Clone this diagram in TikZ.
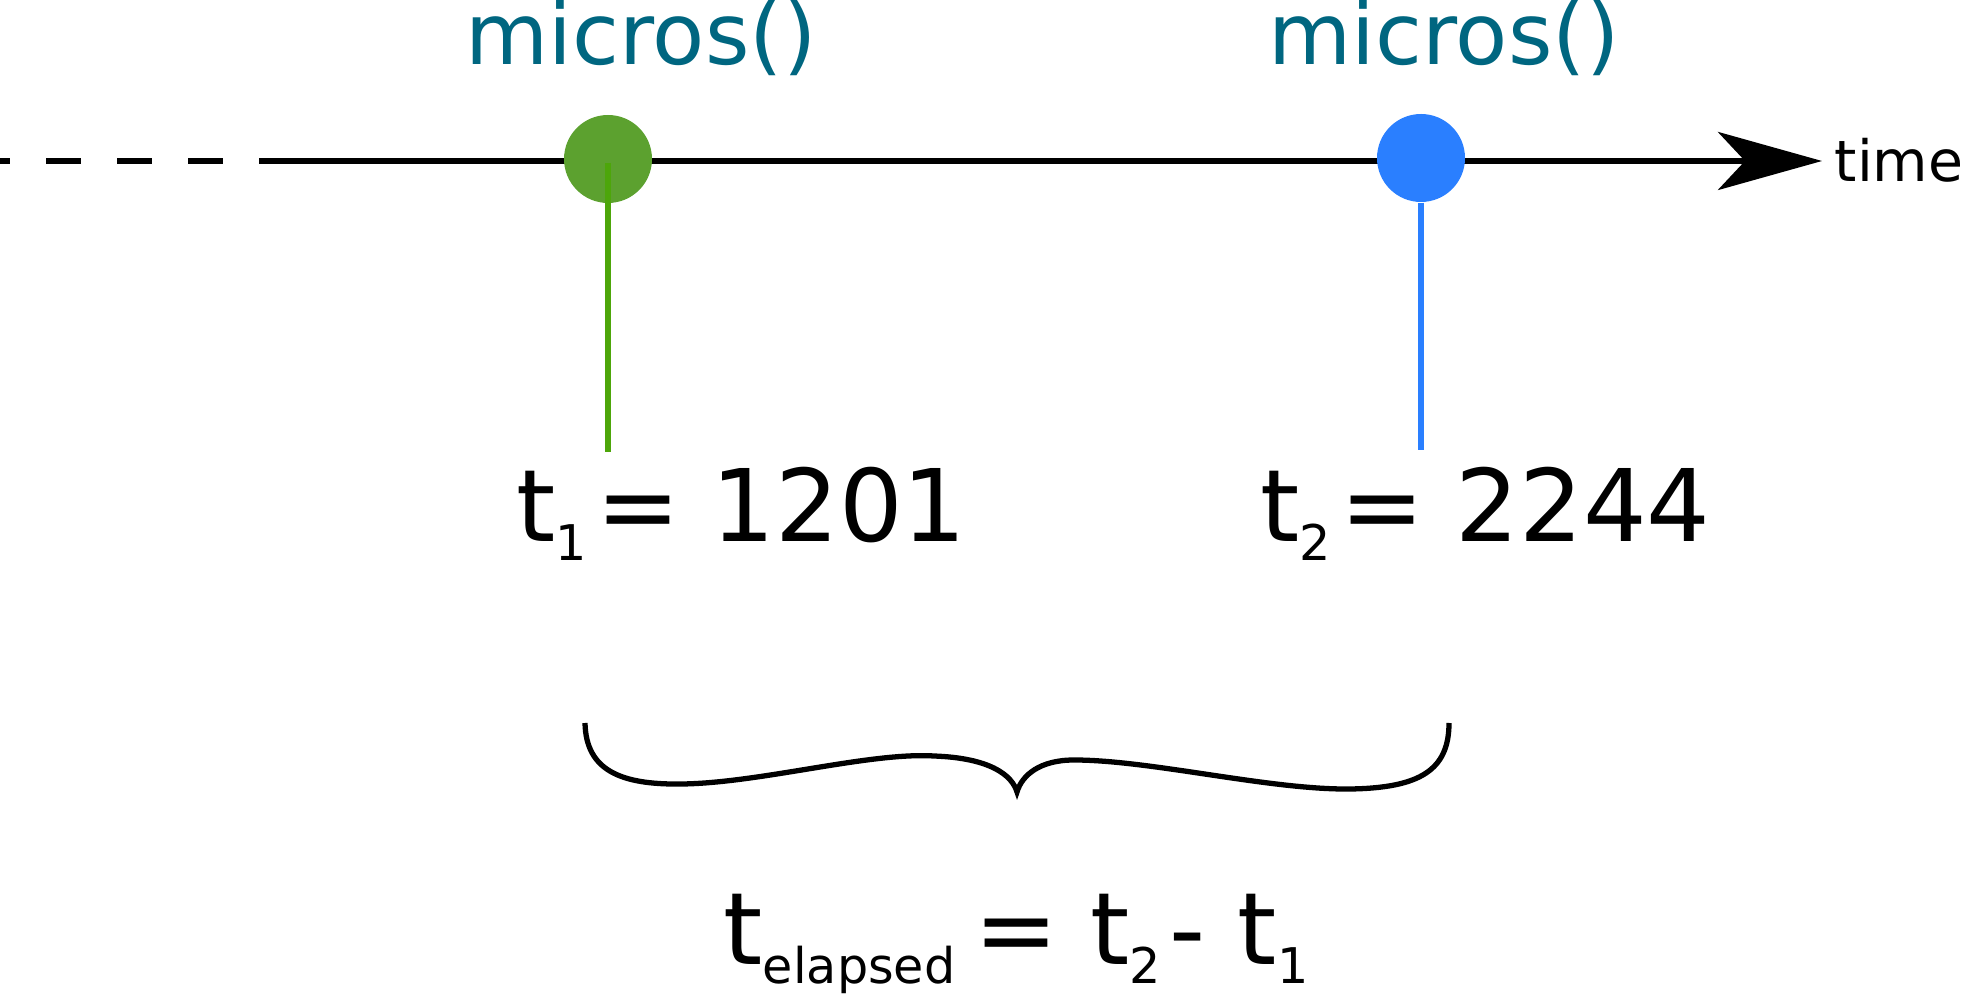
\documentclass[tikz,border=0pt]{standalone}
\usepackage{fontspec}
\setmainfont{DejaVu Sans}
\usetikzlibrary{arrows.meta}
\definecolor{callteal}{RGB}{0,102,128}
\definecolor{dotgreen}{RGB}{92,161,47}
\definecolor{linegreen}{RGB}{77,166,10}
\definecolor{dotblue}{RGB}{42,127,255}
\newcommand{\tsub}[2][2.5pt]{\raisebox{-5.4pt}{\fontsize{14}{14}\selectfont #2}\hspace{#1}}
\tikzset{
  call/.style={text=callteal, font=\fontsize{24.3}{26}\selectfont, anchor=base, inner sep=0},
  value/.style={font=\fontsize{28.5}{30}\selectfont, anchor=base west, inner sep=0},
  dot/.style={circle, fill=#1, minimum size=8.8mm, inner sep=0},
}

\begin{document}
\begin{tikzpicture}[x=0.1mm,y=-0.1mm]
        \useasboundingbox (0,0) rectangle (1961,996);
        % Draw the time axis
        \coordinate (past) at (0,161);
        \coordinate (start) at (292,161);
        \coordinate (tip) at (1822,161);
        \draw[line width=1.7pt,dash pattern=on 3.5mm off 3.6mm,dash phase=2.5mm] (past) -- (start);
        \draw[line width=1.7pt,-{Stealth[length=10.4mm,width=5.8mm,inset=2.7mm]}] (start) -- (tip);
        \node[anchor=base west,inner sep=0,font=\fontsize{16.2}{18}\selectfont] (time) at (1834,182) {time};
        % Draw the two calls
        \node[dot=dotgreen] (first) at (608,159) {};
        \node[dot=dotblue] (second) at (1421,158) {};
        \node[call] (call1) at (641,65) {micros()};
        \node[call] (call2) at (1444,65) {micros()};
        % Draw drop lines
        \coordinate (low1) at (608,452);
        \coordinate (low2) at (1421,450);
        \draw[linegreen,line width=1.5pt] (first.center) ++(0,4) -- (low1);
        \draw[dotblue,line width=1.5pt] (second.south) -- (low2);
        % Values read
        \node[value] (t1) at (516,542) {t\tsub{1}= 1201};
        \node[value] (t2) at (1260,542) {t\tsub{2}= 2244};
        % Draw brace
        \draw[line width=1.5pt,miter limit=10] (585,723) .. controls (586,770) and (620,785) .. (682,784)
            .. controls (760,783) and (870,752) .. (934,756)
            .. controls (990,758) and (1012,775) .. (1017,792)
            .. controls (1022,775) and (1040,760) .. (1074,760)
            .. controls (1150,760) and (1270,790) .. (1350,789)
            .. controls (1420,788) and (1449,770) .. (1449,723);
        % Elapsed time
        \node[value] (elapsed) at (723,965) {t\tsub[5.5pt]{elapsed}= t\tsub{2}- t\tsub{1}};
    \end{tikzpicture}
\end{document}
